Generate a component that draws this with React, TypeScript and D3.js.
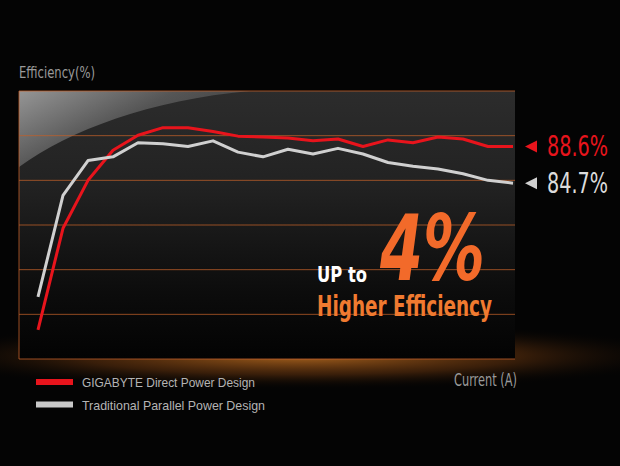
import React from "react";
import * as d3 from "d3";

const steps = ["1","2","3","4","5","6","7","8","9","10","11","12","13","14","15","16","17","18","19","20"];
const gigabyte = [69.1, 79.9, 85.0, 88.2, 89.8, 90.6, 90.6, 90.2, 89.7, 89.6, 89.5, 89.2, 89.4, 88.6, 89.3, 89.0, 89.6, 89.4, 88.6, 88.6];
const traditional = [72.6, 83.4, 87.1, 87.5, 89.0, 88.9, 88.6, 89.2, 88.0, 87.5, 88.3, 87.8, 88.4, 87.8, 86.9, 86.5, 86.2, 85.7, 85.0, 84.7];
const gridValues = [70.75, 75.5, 80.25, 85, 89.75];
const legendLabels = ["GIGABYTE Direct Power Design", "Traditional Parallel Power Design"];
const endLabels = ["88.6%", "84.7%"];

const W = 620, H = 466;
const PL = 19, PR = 515, PT = 91, PB = 359;
const RED = "#e8141c", GRAY = "#d0d0d0", ORANGE = "#f26a2a";
const NARROW = "'Liberation Sans Narrow', 'DejaVu Sans Condensed', sans-serif";

export default function App() {
  const x = d3.scalePoint<string>().domain(steps).range([38, 513]);
  const y = d3.scaleLinear().domain([66, 94.5]).range([PB, PT]);
  const line = d3.line<number>().x((_, i) => x(steps[i]) as number).y((d) => y(d));
  const series = [
    { data: gigabyte, color: RED },
    { data: traditional, color: GRAY },
  ];
  return (
    <svg width={W} height={H} style={{ position: "fixed", left: 0, top: 0, background: "#050505" }}>
      <defs>
        <linearGradient id="panel" x1="0" y1="0" x2="0" y2="1">
          <stop offset="0" stopColor="#2c2c2c" />
          <stop offset="0.35" stopColor="#222222" />
          <stop offset="0.75" stopColor="#0c0c0c" />
          <stop offset="1" stopColor="#030303" />
        </linearGradient>
        <linearGradient id="gloss" x1="0" y1="0" x2="1" y2="0.6">
          <stop offset="0" stopColor="#ffffff" stopOpacity="0.5" />
          <stop offset="0.5" stopColor="#ffffff" stopOpacity="0.2" />
          <stop offset="1" stopColor="#ffffff" stopOpacity="0.06" />
        </linearGradient>
        <radialGradient id="glow" cx="0.5" cy="0.5" r="0.5">
          <stop offset="0" stopColor="#d07a24" stopOpacity="0.8" />
          <stop offset="0.55" stopColor="#9a4e14" stopOpacity="0.35" />
          <stop offset="1" stopColor="#000" stopOpacity="0" />
        </radialGradient>
      </defs>
      <rect x={0} y={0} width={W} height={H} fill="#040404" />
      <ellipse cx={300} cy={356} rx={400} ry={34} fill="url(#glow)" />
      <rect x={PL} y={PT} width={PR - PL} height={PB - PT} fill="url(#panel)" />
      <path d={`M${PL},${PT} L${PL},167 C70,130 150,100 250,${PT} Z`} fill="url(#gloss)" />
      {gridValues.map((v) => (
        <line key={v} x1={PL} x2={PR} y1={y(v)} y2={y(v)} stroke="#c0602a" strokeOpacity={0.75} strokeWidth={1} />
      ))}
      <path d={`M${PR},${PT} L${PL},${PT} L${PL},${PB} L${PR},${PB}`} fill="none" stroke="#c0602a" strokeOpacity={0.8} strokeWidth={1} />
      {series.map((s) => (
        <path key={s.color} d={line(s.data) as string} fill="none" stroke={s.color} strokeWidth={3} strokeLinejoin="round" />
      ))}
      <text x={19} y={78} fill="#9a9a9a" fontFamily={NARROW} fontSize={16} textLength={76} lengthAdjust="spacingAndGlyphs">Efficiency(%)</text>
      {series.map((s, i) => {
        const v = s.data[s.data.length - 1];
        const cy = y(v);
        return (
          <g key={i}>
            <path d={`M525,${cy} L537,${cy - 6} L537,${cy + 6} Z`} fill={s.color} />
            <text x={547} y={cy + 10} fill={s.color === RED ? RED : "#dcdcdc"} fontFamily={NARROW} fontSize={28} textLength={61} lengthAdjust="spacingAndGlyphs">{endLabels[i]}</text>
          </g>
        );
      })}
      <text x={317} y={282} fill="#ffffff" fontFamily={NARROW} fontWeight="bold" fontSize={21} textLength={50} lengthAdjust="spacingAndGlyphs">UP to</text>
      <text x={380} y={280} fill={ORANGE} fontFamily={NARROW} fontWeight="bold" fontStyle="italic" fontSize={90} textLength={105} lengthAdjust="spacingAndGlyphs">4%</text>
      <text x={317} y={316} fill="#f07a30" fontFamily={NARROW} fontWeight="bold" fontSize={28} textLength={175} lengthAdjust="spacingAndGlyphs">Higher Efficiency</text>
      <text x={454} y={386} fill="#9a9a9a" fontFamily={NARROW} fontSize={17} textLength={63} lengthAdjust="spacingAndGlyphs">Current (A)</text>
      {series.map((s, i) => (
        <g key={"lg" + i}>
          <rect x={36} y={379 + i * 22.5} width={37} height={6} fill={s.color === RED ? RED : "#c8c8c8"} />
          <text x={82} y={387 + i * 22.5} fill="#b4b4b4" fontFamily="'Liberation Sans', Arial, sans-serif" fontSize={13} textLength={i === 0 ? 173 : 183} lengthAdjust="spacingAndGlyphs">{legendLabels[i]}</text>
        </g>
      ))}
    </svg>
  );
}
